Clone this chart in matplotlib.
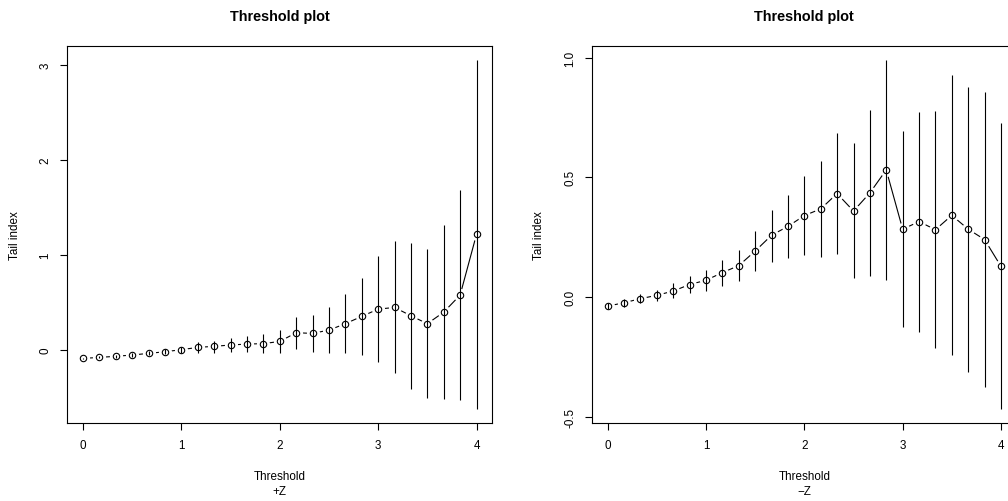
import numpy as np
import matplotlib
matplotlib.use("Agg")
import matplotlib.pyplot as plt
from matplotlib.ticker import FormatStrFormatter

plt.rcParams['font.family'] = ['Liberation Sans', 'DejaVu Sans']

threshold = [0.0, 0.167, 0.333, 0.5, 0.667, 0.833, 1.0, 1.167, 1.333, 1.5,
             1.667, 1.833, 2.0, 2.167, 2.333, 2.5, 2.667, 2.833, 3.0, 3.167,
             3.333, 3.5, 3.667, 3.833, 4.0]

# +Z panel
pos_index = [-0.088, -0.077, -0.066, -0.052, -0.035, -0.018, 0.004, 0.028, 0.039, 0.053,
             0.063, 0.067, 0.091, 0.182, 0.175, 0.21, 0.277, 0.354, 0.43, 0.448,
             0.36, 0.277, 0.399, 0.578, 1.218]
pos_upper = [-0.080, -0.067, -0.053, -0.036, -0.015, 0.007, 0.034, 0.084, 0.100, 0.126,
             0.147, 0.168, 0.214, 0.347, 0.368, 0.452, 0.585, 0.753, 0.984, 1.145,
             1.127, 1.057, 1.316, 1.677, 3.049]
pos_lower = [-0.096, -0.087, -0.079, -0.068, -0.055, -0.043, -0.026, -0.028, -0.035, -0.021,
             -0.025, -0.035, -0.028, 0.007, -0.025, -0.028, -0.028, -0.049, -0.123, -0.238,
             -0.406, -0.504, -0.518, -0.529, -0.620]

# -Z panel
neg_index = [-0.038, -0.024, -0.007, 0.007, 0.025, 0.052, 0.070, 0.102, 0.131, 0.192,
             0.258, 0.295, 0.340, 0.368, 0.432, 0.359, 0.435, 0.531, 0.283, 0.315,
             0.281, 0.341, 0.283, 0.240, 0.128]
neg_upper = [-0.026, -0.007, 0.013, 0.030, 0.057, 0.089, 0.114, 0.156, 0.195, 0.276,
             0.365, 0.428, 0.504, 0.566, 0.685, 0.642, 0.781, 0.990, 0.692, 0.773,
             0.776, 0.926, 0.877, 0.855, 0.726]
neg_lower = [-0.050, -0.041, -0.025, -0.017, -0.006, 0.015, 0.025, 0.047, 0.067, 0.110,
             0.148, 0.162, 0.176, 0.169, 0.178, 0.078, 0.086, 0.071, -0.127, -0.145,
             -0.215, -0.244, -0.313, -0.375, -0.468]

titles = ["Threshold plot", "Threshold plot"]
xlabels = ["Threshold\n+Z", "Threshold\n\u2212Z"]
ylabel = "Tail index"
pos_yticks = [0, 1, 2, 3]
neg_yticks = [-0.5, 0.0, 0.5, 1.0]
xticks = [0, 1, 2, 3, 4]

W, H = 1008, 502
fig = plt.figure(figsize=(W / 100, H / 100), dpi=100)

ax_bottom = (H - 424) / H
ax_height = (424 - 47) / H
ax1 = fig.add_axes([67.3 / W, ax_bottom, 425.0 / W, ax_height])
ax2 = fig.add_axes([592.0 / W, ax_bottom, 424.7 / W, ax_height])

panels = [
    (ax1, pos_index, pos_lower, pos_upper, pos_yticks, "%d", xlabels[0], titles[0], -0.109),
    (ax2, neg_index, neg_lower, neg_upper, neg_yticks, "%.1f", xlabels[1], titles[1], -0.111),
]

lw = 0.8
for ax, y, lo, hi, yt, fmt, xl, tl, ylx in panels:
    ax.plot(threshold, y, color='black', lw=lw, zorder=2)
    ax.plot(threshold, y, linestyle='none', marker='o', ms=9.5,
            mfc='white', mec='none', zorder=3)
    ax.vlines(threshold, lo, hi, color='black', lw=lw, zorder=4)
    ax.plot(threshold, y, linestyle='none', marker='o', ms=4.6,
            mfc='none', mec='black', mew=lw, zorder=5)
    ax.margins(x=0.04, y=0.04)
    ax.set_xticks(xticks)
    ax.set_yticks(yt)
    ax.yaxis.set_major_formatter(FormatStrFormatter(fmt))
    ax.tick_params(axis='both', direction='out', length=5, width=lw,
                   labelsize=8.4, color='black')
    ax.tick_params(axis='x', pad=6.8)
    ax.tick_params(axis='y', pad=6.5)
    for lab in ax.get_yticklabels():
        lab.set_rotation(90)
        lab.set_va('center')
    for s in ax.spines.values():
        s.set_linewidth(lw)
    ax.set_title(tl, fontsize=10.4, fontweight='bold', pad=18.5)
    ax.set_xlabel(xl, fontsize=8.4, linespacing=1.3)
    ax.xaxis.set_label_coords(0.5, -0.125)
    ax.set_ylabel(ylabel, fontsize=8.4)
    ax.yaxis.set_label_coords(ylx, 0.5)

fig.savefig("out.png", dpi=100)
